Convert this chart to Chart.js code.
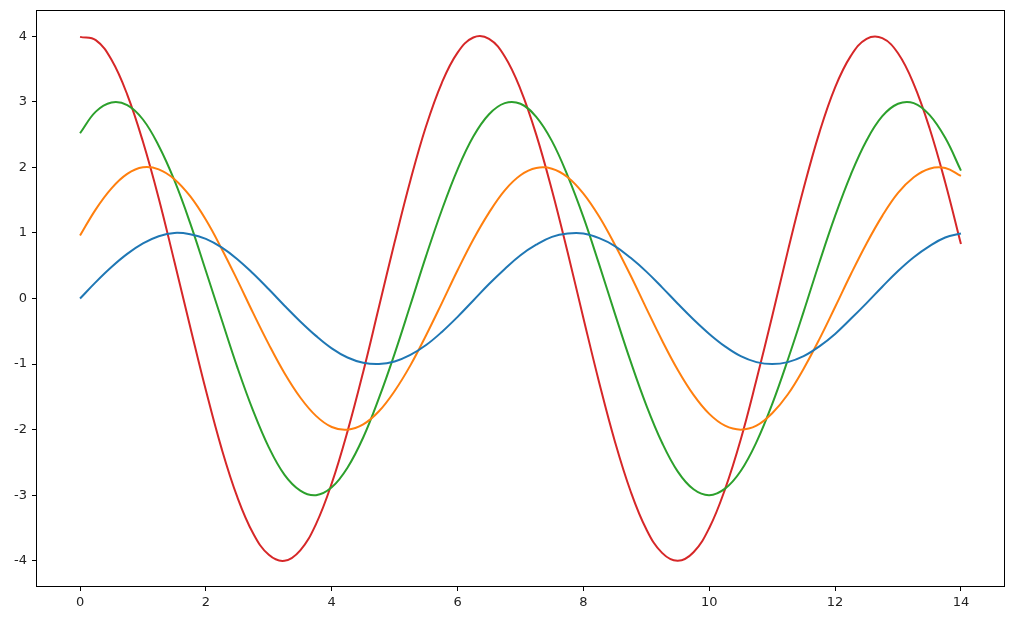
<!DOCTYPE html>
<html>

<head>
   <meta charset="UTF-8">
   <title>Sine Waves</title>
   <script src="https://cdn.jsdelivr.net/npm/chart.js@4"></script>
   <style>
      body { margin: 0; background: #fff; }
      #chartCanvas { display: block; }
   </style>
</head>

<body>
   <canvas id="chartCanvas" width="1036" height="625"></canvas>

   <script>
      // x positions, every 0.25 from 0 to 14
      const xValues = [];
      for (let i = 0; i <= 56; i++) xValues.push(i * 0.25);

      // values
      const blueValues = [0, 0.25, 0.48, 0.68, 0.84, 0.95, 1.00, 0.98, 0.91, 0.78, 0.60, 0.38, 0.14, -0.11, -0.35, -0.57, -0.76, -0.90, -0.98, -1.00, -0.96, -0.86, -0.71, -0.51, -0.28, -0.03, 0.22, 0.45, 0.66, 0.82, 0.94, 0.99, 0.99, 0.92, 0.80, 0.62, 0.41, 0.17, -0.08, -0.32, -0.54, -0.73, -0.88, -0.97, -1.00, -0.97, -0.88, -0.73, -0.54, -0.31, -0.07, 0.18, 0.42, 0.63, 0.80, 0.93, 0.99];
      const orangeValues = [0.96, 1.36, 1.68, 1.90, 2.00, 1.97, 1.82, 1.56, 1.20, 0.76, 0.28, -0.22, -0.70, -1.14, -1.51, -1.79, -1.96, -2.00, -1.92, -1.72, -1.41, -1.02, -0.56, -0.07, 0.43, 0.90, 1.31, 1.65, 1.88, 1.99, 1.98, 1.85, 1.60, 1.25, 0.82, 0.35, -0.15, -0.64, -1.09, -1.47, -1.76, -1.94, -2.00, -1.94, -1.75, -1.46, -1.07, -0.62, -0.13, 0.37, 0.84, 1.26, 1.61, 1.85, 1.98, 1.99, 1.87];
      const greenValues = [2.52, 2.85, 2.99, 2.95, 2.73, 2.33, 1.80, 1.15, 0.42, -0.32, -1.05, -1.71, -2.27, -2.69, -2.93, -3.00, -2.88, -2.58, -2.12, -1.52, -0.84, -0.10, 0.65, 1.35, 1.97, 2.47, 2.81, 2.98, 2.97, 2.77, 2.40, 1.87, 1.24, 0.52, -0.23, -0.96, -1.63, -2.20, -2.64, -2.91, -3.00, -2.90, -2.63, -2.19, -1.61, -0.93, -0.20, 0.55, 1.26, 1.89, 2.41, 2.78, 2.97, 2.98, 2.80, 2.45, 1.95];
      const redValues = [3.99, 3.94, 3.64, 3.11, 2.39, 1.53, 0.56, -0.43, -1.40, -2.29, -3.03, -3.58, -3.91, -4.00, -3.84, -3.44, -2.82, -2.03, -1.12, -0.13, 0.86, 1.80, 2.63, 3.29, 3.75, 3.98, 3.96, 3.69, 3.19, 2.50, 1.65, 0.70, -0.30, -1.28, -2.18, -2.94, -3.52, -3.88, -4.00, -3.87, -3.50, -2.91, -2.15, -1.24, -0.27, 0.73, 1.68, 2.53, 3.22, 3.70, 3.96, 3.97, 3.74, 3.27, 2.60, 1.77, 0.83];

      // tick labels
      const xTicks = [0, 2, 4, 6, 8, 10, 12, 14];
      const yTicks = [-4, -3, -2, -1, 0, 1, 2, 3, 4];

      const colors = ["#1f77b4", "#ff7f0e", "#2ca02c", "#d62728"];
      const seriesList = [blueValues, orangeValues, greenValues, redValues];

      const datasets = seriesList.map((values, i) => ({
         data: values.map((y, j) => ({ x: xValues[j], y: y })),
         borderColor: colors[i],
         borderWidth: 2,
         pointRadius: 0,
         tension: 0.4,
         fill: false
      }));

      // draw the full box round the plot like matplotlib does
      const frame = {
         id: "frame",
         afterDraw(chart) {
            const { ctx, chartArea: a } = chart;
            ctx.save();
            ctx.strokeStyle = "#000";
            ctx.lineWidth = 1;
            ctx.strokeRect(a.left + 0.5, a.top + 0.5, a.right - a.left - 1, a.bottom - a.top - 1);
            ctx.restore();
         }
      };

      const tickFont = { family: "DejaVu Sans", size: 13 };

      new Chart(document.getElementById("chartCanvas"), {
         type: "line",
         data: { datasets },
         options: {
            responsive: false,
            animation: false,
            layout: { padding: { left: 0, top: 10, right: 31, bottom: 0 } },
            plugins: { legend: { display: false }, tooltip: { enabled: false } },
            scales: {
               x: {
                  type: "linear",
                  min: -0.7,
                  max: 14.7,
                  afterBuildTicks: s => { s.ticks = xTicks.map(v => ({ value: v })); },
                  afterFit: s => { s.height = 38; s.paddingLeft = 0; s.paddingRight = 0; },
                  grid: { drawOnChartArea: false, drawTicks: true, tickLength: 4, color: "#000" },
                  border: { display: false },
                  ticks: { color: "#222", font: tickFont, padding: 4, maxRotation: 0, callback: v => v }
               },
               y: {
                  min: -4.4,
                  max: 4.4,
                  afterBuildTicks: s => { s.ticks = yTicks.map(v => ({ value: v })); },
                  afterFit: s => { s.width = 36; s.paddingTop = 0; s.paddingBottom = 0; },
                  grid: { drawOnChartArea: false, drawTicks: true, tickLength: 4, color: "#000" },
                  border: { display: false },
                  ticks: { color: "#222", font: tickFont, padding: 5, callback: v => v }
               }
            }
         },
         plugins: [frame]
      });
   </script>
</body>

</html>
